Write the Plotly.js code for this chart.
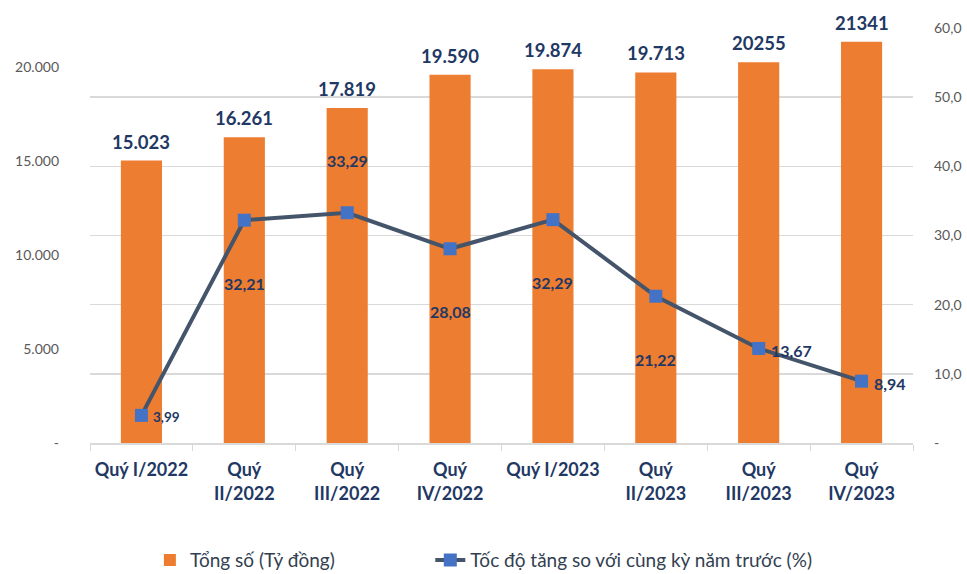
<!DOCTYPE html>
<html><head><meta charset="utf-8">
<script src="https://cdn.plot.ly/plotly-3.0.1.min.js"></script>
<style>html,body{margin:0;padding:0;background:#fff}#chart{width:967px;height:574px}</style>
</head><body><div id="chart"></div>
<script>
const categories = ["Quý I/2022","Quý<br>II/2022","Quý<br>III/2022","Quý<br>IV/2022","Quý I/2023","Quý<br>II/2023","Quý<br>III/2023","Quý<br>IV/2023"];
const totals = [15023, 16261, 17819, 19590, 19874, 19713, 20255, 21341];
const totalLabels = ["15.023","16.261","17.819","19.590","19.874","19.713","20255","21341"];
const growth = [3.99, 32.21, 33.29, 28.08, 32.29, 21.22, 13.67, 8.94];
const growthLabels = ["3,99","32,21","33,29","28,08","32,29","21,22","13,67","8,94"];
const labelPos = ["right","below","above","below","below","below","right","right"];
const leftTicks = [0, 5000, 10000, 15000, 20000];
const leftTickText = ["-", "5.000", "10.000", "15.000", "20.000"];
const rightTicks = [0, 10, 20, 30, 40, 50, 60];
const rightTickText = ["-", "10,0", "20,0", "30,0", "40,0", "50,0", "60,0"];

const navy = "#1F3864";
const FONT = "Lato, 'Open Sans', sans-serif";

const annotations = [];
categories.forEach((c, i) => {
  annotations.push({x: c, y: totals[i], xref: 'x', yref: 'y', text: '<b>' + totalLabels[i] + '</b>',
    showarrow: false, yanchor: 'bottom', yshift: 6, font: {family: FONT, size: 18.5, color: navy}});
  const p = labelPos[i];
  const a = {x: c, y: growth[i], xref: 'x', yref: 'y2', text: '<b>' + growthLabels[i] + '</b>', showarrow: false,
    font: {family: FONT, size: 16, color: navy}};
  if (p === 'right') { a.xanchor = 'left'; a.xshift = 10; a.yshift = -2; a.font.size = i === 0 ? 13.5 : 16; }
  else if (p === 'below') { a.yshift = -63; }
  else { a.yshift = 52; }
  annotations.push(a);
});

const data = [
  {type: 'bar', x: categories, y: totals, name: 'Tổng số (Tỷ đồng)', marker: {color: '#ED7D31'},
   yaxis: 'y', hoverinfo: 'none', legend: 'legend'},
  {type: 'scatter', mode: 'lines+markers', x: categories, y: growth, yaxis: 'y2',
   name: 'Tốc độ tăng so với cùng kỳ năm trước (%)', legend: 'legend2',
   line: {color: '#44546A', width: 4}, marker: {symbol: 'square', size: 13, color: '#4472C4', line: {width: 0}}, hoverinfo: 'none'}
];

const legendFont = {family: FONT, size: 19, color: '#333F50'};
const layout = {
  width: 967, height: 574,
  margin: {l: 90, r: 54, t: 28, b: 131},
  paper_bgcolor: '#fff', plot_bgcolor: '#fff',
  bargap: 0.6,
  showlegend: true,
  legend: {orientation: 'h', xref: 'container', yref: 'container', x: 0.155, xanchor: 'left', y: 0.024, yanchor: 'middle',
    font: legendFont},
  legend2: {orientation: 'h', xref: 'container', yref: 'container', x: 0.445, xanchor: 'left', y: 0.024, yanchor: 'middle',
    font: legendFont},
  xaxis: {type: 'category', tickson: 'boundaries', ticks: 'outside', ticklen: 6, tickcolor: '#D9D9D9',
    showline: true, linecolor: '#D9D9D9', linewidth: 1.5, showgrid: false, automargin: false,
    ticklabelstandoff: 10,
    tickfont: {family: FONT, size: 18, color: navy, weight: 'bold'}},
  yaxis: {range: [0, 22074], tickvals: leftTicks, ticktext: leftTickText, showgrid: false, zeroline: false,
    automargin: false,
    tickfont: {family: FONT, size: 14, color: '#595959'}, ticks: '', ticklabelstandoff: 30},
  yaxis2: {range: [0, 60], overlaying: 'y', side: 'right', tickvals: rightTicks, ticktext: rightTickText,
    showgrid: true, gridcolor: '#D9D9D9', gridwidth: 1.5, zeroline: false, automargin: false,
    tickfont: {family: FONT, size: 14, color: '#595959'}, ticklabelstandoff: 20},
  annotations: annotations
};
Plotly.newPlot('chart', data, layout, {displayModeBar: false, staticPlot: true});
</script></body></html>
